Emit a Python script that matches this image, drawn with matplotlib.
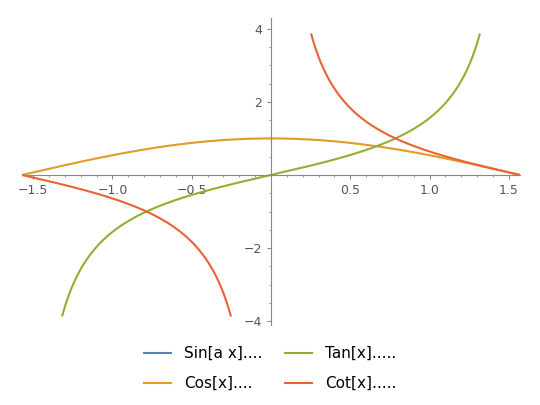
import numpy as np
import matplotlib
matplotlib.use("Agg")
import matplotlib.pyplot as plt
from matplotlib.lines import Line2D

labels = ["Sin[a x]....", "Cos[x]....", "Tan[x].....", "Cot[x]....."]
colors = ["#5E81B5", "#E19C24", "#8FB032", "#EB6235"]
x_ticks = [-1.5, -1.0, -0.5, 0.5, 1.0, 1.5]
y_ticks = [-4, -2, 2, 4]
clip = 3.85

x = np.linspace(-np.pi/2, np.pi/2, 2001)
cosv = np.cos(x)
with np.errstate(divide="ignore"):
    tanv = np.tan(x)
    cotv = 1/np.tan(x)
tanv = np.where(np.abs(tanv) <= clip, tanv, np.nan)
cotv = np.where(np.abs(cotv) <= clip, cotv, np.nan)

fig = plt.figure(figsize=(5.4, 4.05), dpi=100)
ax = fig.add_axes([22/540, 0.198, 498/540, 0.758])
ax.plot(x, cosv, color=colors[1], lw=1.5)
ax.plot(x, tanv, color=colors[2], lw=1.5)
ax.plot(x, cotv, color=colors[3], lw=1.5)
ax.set_xlim(-np.pi/2, np.pi/2)
ax.set_ylim(-4.1, 4.3)
for s in ["top", "right"]:
    ax.spines[s].set_visible(False)
ax.spines["left"].set_position(("data", 0))
ax.spines["bottom"].set_position(("data", 0))
for s in ["left", "bottom"]:
    ax.spines[s].set_color("#888888")
ax.set_xticks(x_ticks)
ax.set_xticklabels([f"{t:.1f}".replace("-", "−") for t in x_ticks])
ax.set_yticks(y_ticks)
ax.set_yticklabels([str(t).replace("-", "−") for t in y_ticks])
ax.tick_params(colors="#888888", labelcolor="#555555", labelsize=9, length=3)
ax.set_xticks(np.arange(-1.5, 1.51, 0.1), minor=True)
ax.set_yticks(np.arange(-4, 4.01, 0.5), minor=True)
ax.tick_params(which="minor", length=1.5, colors="#888888")

handles = [Line2D([], [], color=c, lw=1.5) for c in colors]
fig.legend(handles, labels, loc="lower center", bbox_to_anchor=(0.5, 0.0), ncol=2,
           frameon=False, fontsize=11, handlelength=1.8, columnspacing=1.5,
           labelspacing=1.0)
fig.savefig("out.png")
